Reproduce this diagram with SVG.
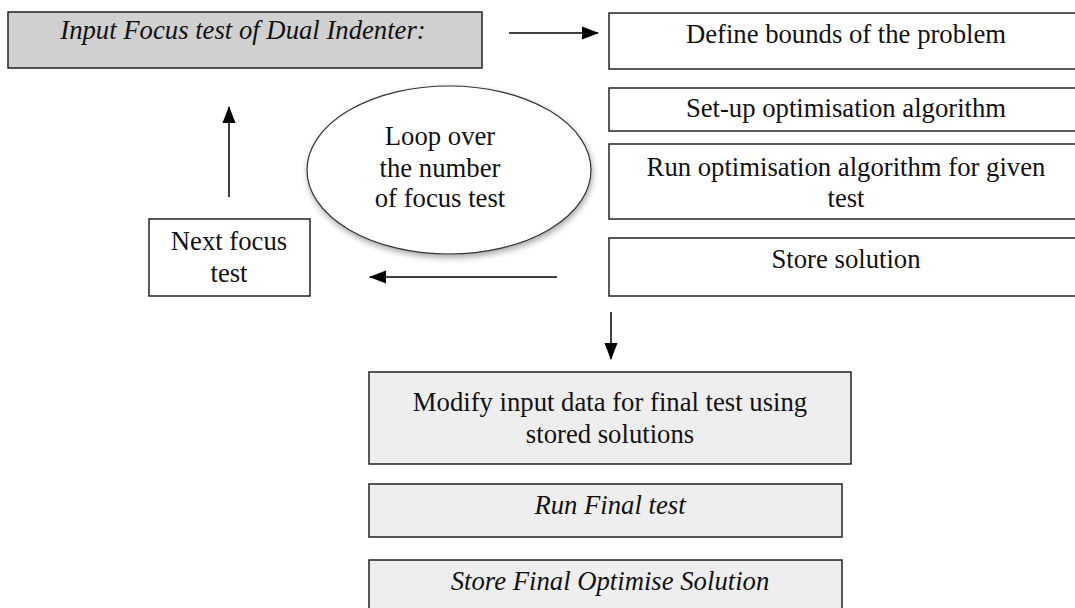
<svg xmlns="http://www.w3.org/2000/svg" width="1075" height="608" viewBox="0 0 1075 608">
<defs>
<marker id="ah" markerWidth="17" markerHeight="14" refX="16" refY="7" orient="auto" markerUnits="userSpaceOnUse">
<path d="M0,0.5 L17,7 L0,13.5 Z" fill="#000"/>
</marker>
<filter id="sh" x="-20%" y="-20%" width="140%" height="140%">
<feGaussianBlur in="SourceAlpha" stdDeviation="3"/>
<feOffset dx="1" dy="3" result="b"/>
<feComponentTransfer><feFuncA type="linear" slope="0.35"/></feComponentTransfer>
<feMerge><feMergeNode/><feMergeNode in="SourceGraphic"/></feMerge>
</filter>
</defs>
<style>
.box{stroke:#222;stroke-width:1.5;fill:#fff}
.grey{fill:#d0d0d0}
.light{fill:#eeeeee}
.t{font-family:"Liberation Serif","Times New Roman",serif;font-size:26.7px;fill:#111;text-anchor:middle}
.i{font-style:italic}
.c{stroke:#000;stroke-width:1.5;fill:none;marker-end:url(#ah)}
</style>
<rect width="1075" height="608" fill="#fff"/>
<g id="input">
<rect class="box grey" x="8" y="12" width="474" height="56"/>
<text class="t i" x="243" y="39">Input Focus test of Dual Indenter:</text>
</g>
<g id="define">
<rect class="box" x="609" y="13" width="480" height="56"/>
<text class="t" x="846" y="43">Define bounds of the problem</text>
</g>
<g id="setup">
<rect class="box" x="609" y="88" width="480" height="43"/>
<text class="t" x="846" y="117">Set-up optimisation algorithm</text>
</g>
<g id="run">
<rect class="box" x="609" y="144" width="480" height="75"/>
<text class="t" x="846" y="176">Run optimisation algorithm for given</text>
<text class="t" x="846" y="207">test</text>
</g>
<g id="store">
<rect class="box" x="609" y="238" width="480" height="58"/>
<text class="t" x="846" y="268">Store solution</text>
</g>
<g id="loop">
<ellipse cx="449" cy="170" rx="142" ry="84" fill="#fff" stroke="#333" stroke-width="1.2" filter="url(#sh)"/>
<text class="t" x="440" y="145">Loop over</text>
<text class="t" x="440" y="177">the number</text>
<text class="t" x="440" y="207">of focus test</text>
</g>
<g id="next">
<rect class="box" x="149" y="219" width="161" height="77"/>
<text class="t" x="229" y="250">Next focus</text>
<text class="t" x="229" y="282">test</text>
</g>
<g id="modify">
<rect class="box light" x="369" y="372" width="482" height="92"/>
<text class="t" x="610" y="411">Modify input data for final test using</text>
<text class="t" x="610" y="443">stored solutions</text>
</g>
<g id="runfinal">
<rect class="box light" x="369" y="484" width="473" height="53"/>
<text class="t i" x="610" y="514">Run Final test</text>
</g>
<g id="storefinal">
<rect class="box light" x="369" y="560" width="473" height="60"/>
<text class="t i" x="610" y="590">Store Final Optimise Solution</text>
</g>
<g id="connectors">
<line class="c" x1="509" y1="33" x2="598" y2="33"/>
<line class="c" x1="229" y1="197" x2="229" y2="107"/>
<line class="c" x1="557" y1="277" x2="370" y2="277"/>
<line class="c" x1="611" y1="312" x2="611" y2="359"/>
</g>
</svg>
